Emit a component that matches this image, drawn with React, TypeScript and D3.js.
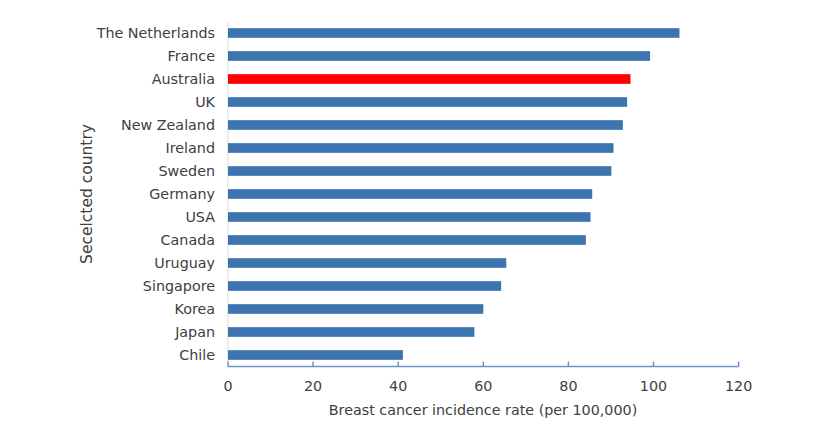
import React from "react";
import * as d3 from "d3";

const countries = [
  "The Netherlands", "France", "Australia", "UK", "New Zealand", "Ireland", "Sweden",
  "Germany", "USA", "Canada", "Uruguay", "Singapore", "Korea", "Japan", "Chile",
];
const rates = [106.1, 99.2, 94.6, 93.8, 92.8, 90.6, 90.1, 85.6, 85.2, 84.1, 65.4, 64.2, 60.0, 57.9, 41.1];
const highlight = "Australia";
const xTicks = [0, 20, 40, 60, 80, 100, 120];
const xTitle = "Breast cancer incidence rate (per 100,000)";
const yTitle = "Secelcted country";

export default function App() {
  const W = 838, H = 446;
  const left = 228, right = 738.6, top = 21.5, bottom = 366.5;
  const x = d3.scaleLinear().domain([0, 120]).range([left, right]);
  const y = d3.scaleBand().domain(countries).range([top, bottom]).paddingInner(0.58).paddingOuter(0.29);
  const font = "'DejaVu Sans', sans-serif";
  const textColor = "#404040";
  const axisColor = "#6f93c4";
  return (
    <svg width={W} height={H} style={{ position: "absolute", left: 0, top: 0, background: "#fff" }}>
      <line x1={left} x2={left} y1={top} y2={bottom} stroke="#d9d9d9" strokeWidth={1} />
      {countries.map((c, i) => (
        <rect key={c} x={x(0)} y={y(c)} width={x(rates[i]) - x(0)} height={y.bandwidth()}
          fill={c === highlight ? "#ff0000" : "#3c74b0"} />
      ))}
      <line x1={left} x2={right} y1={bottom} y2={bottom} stroke={axisColor} strokeWidth={1.5} />
      {xTicks.map((t) => (
        <g key={t}>
          <line x1={x(t)} x2={x(t)} y1={bottom} y2={bottom - 5} stroke={axisColor} strokeWidth={1.5} />
          <text x={x(t)} y={bottom + 24} textAnchor="middle" fontFamily={font} fontSize={14.3} fill={textColor}>{t}</text>
        </g>
      ))}
      {countries.map((c) => (
        <text key={c} x={215} y={y(c)! + y.bandwidth() / 2} dy="0.35em" textAnchor="end"
          fontFamily={font} fontSize={14.3} fill={textColor}>{c}</text>
      ))}
      <text x={483} y={415} textAnchor="middle" fontFamily={font} fontSize={14.3} fill={textColor}>{xTitle}</text>
      <text transform={`translate(92,${(top + bottom) / 2}) rotate(-90)`} textAnchor="middle"
        fontFamily={font} fontSize={15.5} fill={textColor}>{yTitle}</text>
    </svg>
  );
}
